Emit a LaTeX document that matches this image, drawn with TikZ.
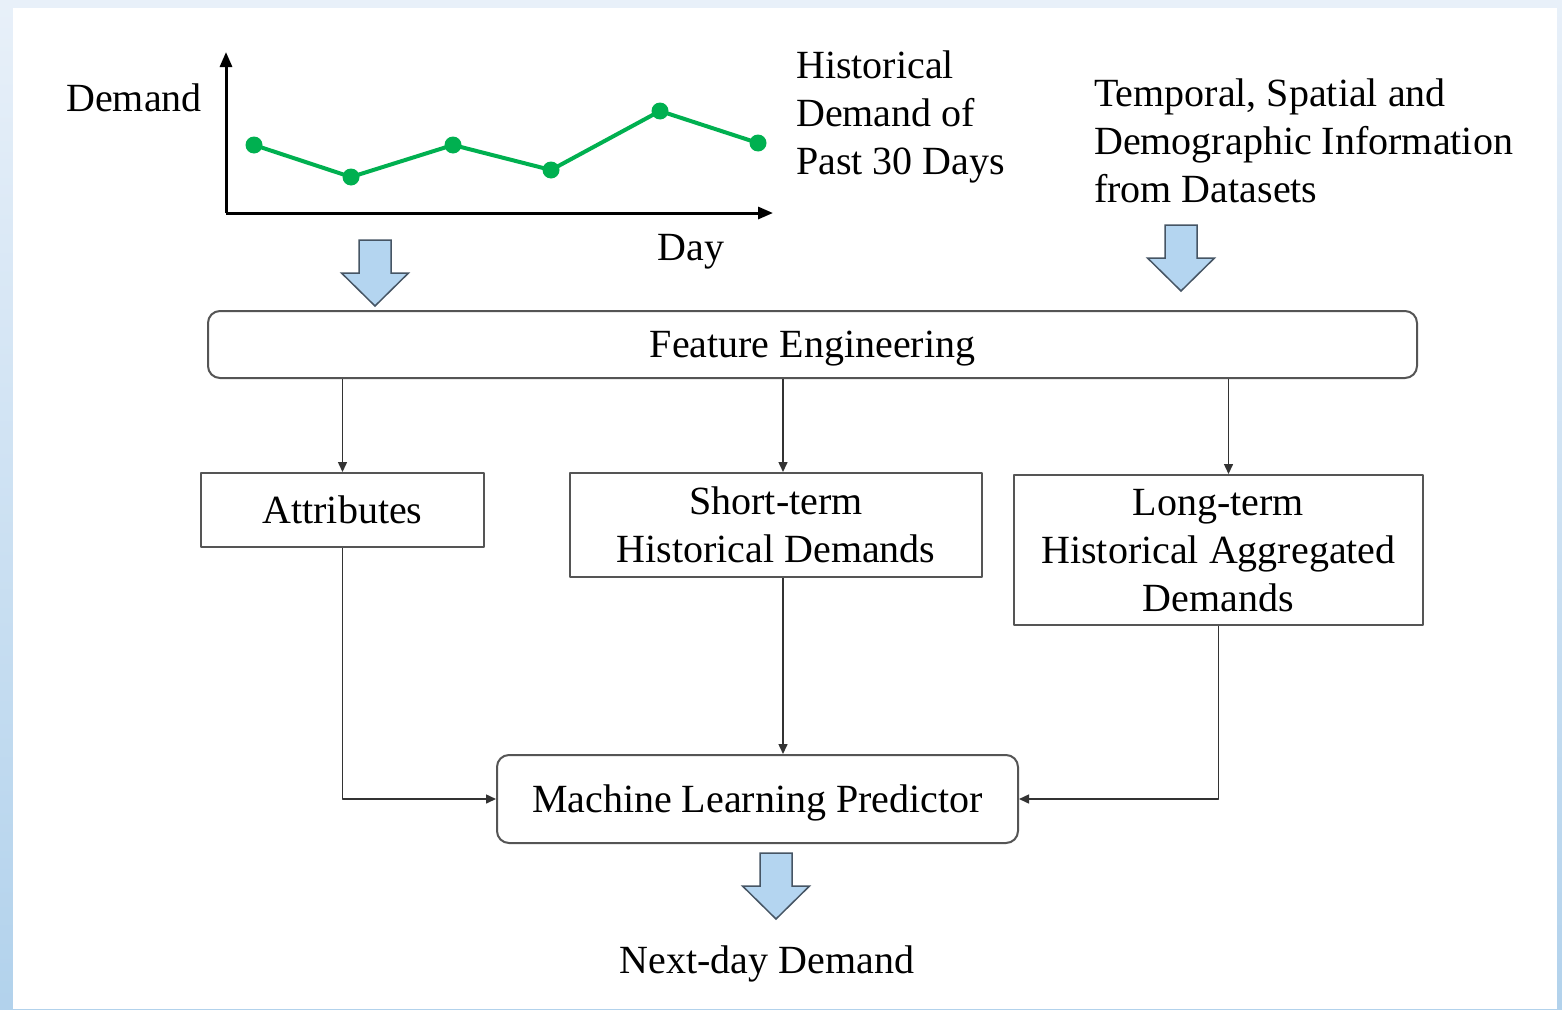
\documentclass[tikz,border=0pt]{standalone}
\usepackage{fontspec}
\setmainfont{Liberation Serif}
\usetikzlibrary{arrows.meta}
\definecolor{linegreen}{RGB}{0,176,80}
\definecolor{fatfill}{RGB}{180,213,240}
\definecolor{fatline}{RGB}{70,85,100}
\definecolor{boxline}{RGB}{85,85,85}
\definecolor{bgtop}{RGB}{232,240,249}
\definecolor{bgbot}{RGB}{178,210,236}
\tikzset{
  box/.style={draw=boxline, line width=2pt, inner sep=0pt, align=center, text depth=0pt},
  roundbox/.style={box, rounded corners=12pt},
  label/.style={inner sep=0pt, align=left},
  conn/.style={draw=black!80, line width=1.5pt, -{Triangle[length=10pt,width=9pt]}},
  axis/.style={line width=3pt, -{Triangle[length=15pt,width=12pt]}},
  fat/.style={fill=fatfill, draw=fatline, line width=1.5pt, line join=miter}
}
% fat arrow: x of centre, y of top
\newcommand{\fatarrow}[2]{%
  \draw[fat] (#1-16,#2) -- (#1+16,#2) -- (#1+16,#2+33) -- (#1+33.5,#2+33)
    -- (#1,#2+66) -- (#1-33.5,#2+33) -- (#1-16,#2+33) -- cycle;}
\begin{document}
\begin{tikzpicture}[x=1pt, y=-1pt, font=\fontsize{40}{48}\selectfont, line join=round]
  \useasboundingbox (0,0) rectangle (1562,1009);
  \shade[top color=bgtop, bottom color=bgbot] (0,0) rectangle (1562,1009);
  \fill[white] (13,8) rectangle (1557,1009);

  % chart
  \coordinate (O) at (226,213);
  \draw[axis] (O) -- (226,52);
  \draw[axis] (O) -- (773,213);
  \draw[linegreen, line width=4pt] plot coordinates {(254,145) (351,177) (453,145) (551,170) (660,111) (758,143)};
  \foreach \p in {(254,145),(351,177),(453,145),(551,170),(660,111),(758,143)}
    \fill[linegreen] \p circle (8.5);
  \node[label] (demand) at (134,98) {Demand};
  \node[label] (day) at (691,252) {Day};
  \node[label, anchor=west] (hist) at (796,117) {Historical\\Demand of\\Past 30 Days};
  \node[label, anchor=west] (info) at (1094,141) {Temporal, Spatial and\\Demographic Information\\from Datasets};

  % fat arrows
  \fatarrow{375}{240}
  \fatarrow{1181}{225}
  \fatarrow{776}{853}

  % boxes
  \node[roundbox, minimum width=1209pt, minimum height=67pt] (fe) at (812.5,344.5) {Feature Engineering};
  \node[box, minimum width=283pt, minimum height=74pt] (att) at (342.5,510) {Attributes};
  \node[box, minimum width=412pt, minimum height=104pt] (st) at (776,525) {Short-term\\Historical Demands};
  \node[box, minimum width=409pt, minimum height=150pt] (lt) at (1218.5,550) {Long-term\\Historical Aggregated\\Demands};
  \node[roundbox, minimum width=521pt, minimum height=88pt] (ml) at (757.5,799) {Machine Learning Predictor};
  \node[label] (next) at (767,964) {Next-day Demand};

  % connectors
  \draw[conn] (fe.south -| att.north) -- (att.north);
  \draw[conn] ([xshift=7]fe.south -| st.north) -- ([xshift=7]st.north);
  \draw[conn] ([xshift=10]fe.south -| lt.north) -- ([xshift=10]lt.north);
  \draw[conn] (att.south) |- (ml.west);
  \draw[conn] ([xshift=7]st.south) -- ([xshift=7]st.south |- ml.north);
  \draw[conn] (lt.south) |- (ml.east);
\end{tikzpicture}
\end{document}
